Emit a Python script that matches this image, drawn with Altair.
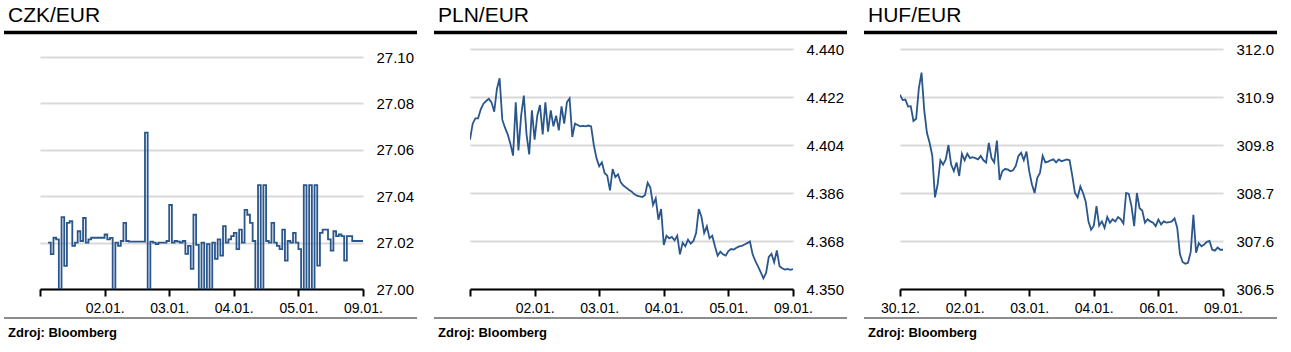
import json
import altair as alt
import pandas as pd

FONT = "Liberation Sans"
LINE_COLOR = "#2a568c"

# ---- data (one sample per 1/24 of a trading day) ----
czk_values = [
    None, None, None, 27.0200, 27.0150, 27.0221, 27.0214, 27.0000, 27.0310, 27.0100,
    27.0285, 27.0292, 27.0186, 27.0200, 27.0249, 27.0207, 27.0306, 27.0200, 27.0214, 27.0221,
    27.0221, 27.0221, 27.0221, 27.0221, 27.0235, 27.0214, 27.0220, 27.0000, 27.0200, 27.0186,
    27.0207, 27.0285, 27.0207, 27.0204, 27.0204, 27.0204, 27.0204, 27.0204, 27.0204, 27.0674,
    27.0000, 27.0204, 27.0200, 27.0193, 27.0200, 27.0200, 27.0200, 27.0207, 27.0362, 27.0200,
    27.0207, 27.0204, 27.0200, 27.0207, 27.0151, 27.0186, 27.0087, 27.0320, 27.0190, 27.0000,
    27.0200, 27.0000, 27.0193, 27.0000, 27.0200, 27.0130, 27.0214, 27.0144, 27.0271, 27.0200,
    27.0214, 27.0228, 27.0242, 27.0172, 27.0256, 27.0200, 27.0341, 27.0320, 27.0285, 27.0207,
    27.0000, 27.0448, 27.0000, 27.0448, 27.0207, 27.0200, 27.0285, 27.0200, 27.0186, 27.0172,
    27.0256, 27.0122, 27.0207, 27.0200, 27.0242, 27.0200, 27.0172, 27.0000, 27.0448, 27.0000,
    27.0448, 27.0000, 27.0448, 27.0101, 27.0242, 27.0256, 27.0256, 27.0214, 27.0165, 27.0249,
    27.0228, 27.0235, 27.0228, 27.0122, 27.0228, 27.0228, 27.0207, 27.0207, 27.0207, 27.0207,
    27.0207,
]

pln_values = [
    4.4060, 4.4120, 4.4140, 4.4140, 4.4174, 4.4195, 4.4205, 4.4213, 4.4200, 4.4165,
    4.4250, 4.4290, 4.4135, 4.4105, 4.4080, 4.4045, 4.4000, 4.4200, 4.4020, 4.4150,
    4.4225, 4.4080, 4.4005, 4.4170, 4.4060, 4.4150, 4.4190, 4.4080, 4.4200, 4.4090,
    4.4170, 4.4110, 4.4150, 4.4095, 4.4185, 4.4120, 4.4200, 4.4215, 4.4070, 4.4120,
    4.4115, 4.4110, 4.4112, 4.4110, 4.4113, 4.4110, 4.4040, 4.3990, 4.3960, 4.3975,
    4.3935, 4.3925, 4.3870, 4.3950, 4.3920, 4.3930, 4.3900, 4.3888, 4.3880, 4.3872,
    4.3866, 4.3856, 4.3850, 4.3847, 4.3845, 4.3852, 4.3898, 4.3880, 4.3815, 4.3840,
    4.3760, 4.3800, 4.3665, 4.3700, 4.3690, 4.3695, 4.3682, 4.3700, 4.3630, 4.3673,
    4.3660, 4.3685, 4.3670, 4.3680, 4.3710, 4.3800, 4.3770, 4.3710, 4.3735, 4.3690,
    4.3700, 4.3660, 4.3625, 4.3640, 4.3630, 4.3625, 4.3642, 4.3650, 4.3648, 4.3655,
    4.3660, 4.3662, 4.3667, 4.3672, 4.3678, 4.3630, 4.3605, 4.3585, 4.3563, 4.3540,
    4.3560, 4.3620, 4.3632, 4.3600, 4.3645, 4.3585, 4.3578, 4.3573, 4.3575, 4.3572,
    4.3575,
]

huf_values = [
    310.95, 310.83, 310.84, 310.68, 310.69, 310.35, 310.40, 311.10, 311.46, 310.60,
    310.08, 309.85, 309.55, 308.60, 308.90, 309.45, 309.35, 309.47, 309.80, 309.35,
    309.20, 309.40, 309.09, 309.60, 309.45, 309.60, 309.50, 309.52, 309.50, 309.47,
    309.55, 309.45, 309.40, 309.85, 309.50, 309.40, 309.90, 309.00, 309.20, 309.25,
    309.24, 309.20, 309.22, 309.32, 309.55, 309.62, 309.45, 309.65, 309.20, 308.90,
    308.70, 309.05, 309.16, 309.55, 309.40, 309.42, 309.45, 309.47, 309.40, 309.47,
    309.43, 309.45, 309.47, 309.45, 309.10, 308.70, 308.60, 308.85, 308.70, 308.50,
    308.05, 307.86, 307.95, 308.40, 307.95, 308.05, 307.90, 308.15, 308.02, 308.10,
    308.05, 308.15, 308.10, 308.00, 308.70, 308.68, 308.40, 307.94, 308.70, 308.35,
    308.30, 308.02, 308.10, 308.05, 308.02, 307.94, 308.09, 307.98, 308.05, 308.02,
    308.03, 308.05, 308.12, 307.90, 307.30, 307.12, 307.08, 307.10, 307.35, 308.20,
    307.33, 307.55, 307.48, 307.52, 307.58, 307.60, 307.40, 307.38, 307.45, 307.40,
    307.40,
]

czk_ticks = [27.00, 27.02, 27.04, 27.06, 27.08, 27.10]
pln_ticks = [4.350, 4.368, 4.386, 4.404, 4.422, 4.440]
huf_ticks = [306.5, 307.6, 308.7, 309.8, 310.9, 312.0]

czk_dates = ["", "02.01.", "03.01.", "04.01.", "05.01.", "09.01."]
pln_dates = ["", "02.01.", "03.01.", "04.01.", "05.01.", "09.01."]
huf_dates = ["30.12.", "02.01.", "03.01.", "04.01.", "06.01.", "09.01."]

SOURCE = "Zdroj: Bloomberg"
W, H = 323, 240


def panel(name, values, ydomain, yticks, yfmt, dates, interp, anchor=False):
    df = pd.DataFrame({"t": [i / 24 for i in range(len(values))], "v": values}).dropna()
    one = pd.DataFrame({"a": [0]})

    x = alt.X(
        "t:Q",
        scale=alt.Scale(domain=[0, len(dates) - 1], nice=False, zero=False),
        axis=alt.Axis(
            values=list(range(len(dates))),
            labelExpr=json.dumps(dates) + "[datum.value]",
            title=None, grid=False,
            domainColor="black", domainWidth=2,
            tickColor="black", tickWidth=2, tickSize=7,
            labelFont=FONT, labelFontSize=14, labelColor="black",
            labelPadding=5, labelFlush=False, labelOverlap=False,
        ),
    )
    y = alt.Y(
        "v:Q",
        scale=alt.Scale(domain=ydomain, nice=False, zero=False),
        axis=alt.Axis(
            orient="right", values=yticks, format=yfmt, title=None,
            domain=False, ticks=False, grid=True,
            gridColor="#d9d9d9", gridWidth=2,
            labelFont=FONT, labelFontSize=15, labelColor="black",
            labelPadding=13, labelFlush=False, labelOverlap=False,
        ),
    )
    line = alt.Chart(df).mark_line(
        color=LINE_COLOR, strokeWidth=1.8, interpolate=interp, clip=True
    ).encode(x=x, y=y)

    title = alt.Chart(one).mark_text(
        text=name, align="left", baseline="alphabetic",
        font=FONT, fontSize=21, color="black",
    ).encode(x=alt.value(-32), y=alt.value(-27))
    top_rule = alt.Chart(one).mark_rule(color="black", strokeWidth=3.5).encode(
        x=alt.value(-36), x2=alt.value(377), y=alt.value(-16.5)
    )
    bottom_rule = alt.Chart(one).mark_rule(color="#8c8c8c", strokeWidth=2).encode(
        x=alt.value(-36), x2=alt.value(377), y=alt.value(269)
    )
    source = alt.Chart(one).mark_text(
        text=SOURCE, align="left", baseline="alphabetic",
        font=FONT, fontSize=13, fontWeight="bold", color="black",
    ).encode(x=alt.value(-32), y=alt.value(288))

    layers = [line, title, top_rule, bottom_rule, source]
    if anchor:
        layers.append(
            alt.Chart(one).mark_rule(color="white", strokeWidth=1).encode(
                x=alt.value(-39.5), y=alt.value(-48.5), y2=alt.value(-40)
            )
        )
    return alt.layer(*layers).properties(width=W, height=H)


p1 = panel("CZK/EUR", czk_values, [27.0, 27.0 + 0.10 * 240 / 232], czk_ticks, ".2f",
           czk_dates, "step-after", anchor=True)
p2 = panel("PLN/EUR", pln_values, [4.35, 4.44], pln_ticks, ".3f", pln_dates, "linear")
p3 = panel("HUF/EUR", huf_values, [306.5, 312.0], huf_ticks, ".1f", huf_dates, "linear")

chart = (
    alt.hconcat(p1, p2, p3, spacing=107, bounds="flush")
    .properties(padding=0, background="white")
    .configure_view(stroke=None)
)

chart.save("out.html", embed_options={"renderer": "svg", "actions": False})
